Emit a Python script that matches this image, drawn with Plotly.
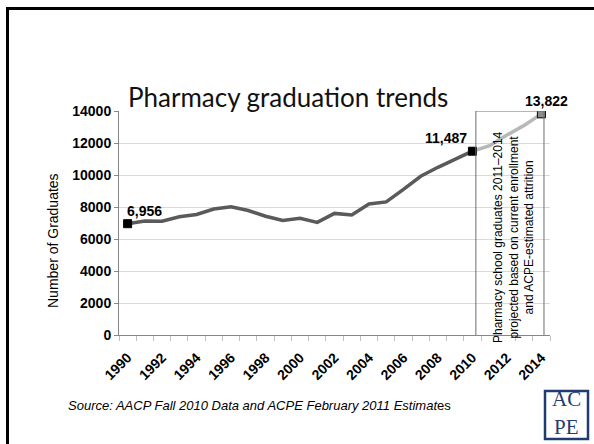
import plotly.graph_objects as go

# ---------------- data ----------------
years_actual = [1990, 1991, 1992, 1993, 1994, 1995, 1996, 1997, 1998, 1999, 2000,
                2001, 2002, 2003, 2004, 2005, 2006, 2007, 2008, 2009, 2010]
grads_actual = [6956, 7130, 7110, 7390, 7530, 7870, 8020, 7780, 7420, 7160, 7290,
                7040, 7600, 7500, 8190, 8320, 9100, 9920, 10480, 11000, 11487]
years_proj = [2010, 2011, 2012, 2013, 2014]
grads_proj = [11487, 11830, 12500, 13100, 13822]

label_years = [1990, 2010, 2014]
label_values = [6956, 11487, 13822]
label_texts = ["6,956", "11,487", "13,822"]

x_tick_vals = list(range(1990, 2015, 2))
y_tick_vals = list(range(0, 14001, 2000))

title_text = "Pharmacy graduation trends"
y_title = "Number of Graduates"
box_text = ("Pharmacy school graduates 2011\u20132014<br>"
            "projected based on current enrollment<br>"
            "and ACPE-estimated attrition")
source_text = "<i>Source: AACP Fall 2010 Data and ACPE February 2011 Estimat</i>es"
logo_top = "AC"
logo_bottom = "PE"

# ---------------- layout geometry (pixels) ----------------
W, H = 594, 444
L, R, T, B = 119, 44, 111, 109
PW, PH = W - L - R, H - T - B


def px(x):
    return (x - L) / PW


def py(y):
    return (H - B - y) / PH


fig = go.Figure()

fig.add_trace(go.Scatter(
    x=years_proj, y=grads_proj, mode="lines",
    line=dict(color="#b8b8b8", width=3.5), hoverinfo="skip", showlegend=False))
fig.add_trace(go.Scatter(
    x=years_actual, y=grads_actual, mode="lines",
    line=dict(color="#5a5a5a", width=3.5), showlegend=False))
fig.add_trace(go.Scatter(
    x=label_years, y=label_values, mode="markers",
    marker=dict(symbol="square", size=8,
                color=["#000000", "#000000", "#8c8c8c"],
                line=dict(color="#000000", width=1)),
    showlegend=False))

bold = dict(family="Liberation Sans, Arial", size=14, color="#000000")

fig.update_layout(
    width=W, height=H,
    margin=dict(l=L, r=R, t=T, b=B, pad=0),
    paper_bgcolor="#ffffff", plot_bgcolor="#ffffff",
    font=dict(family="Liberation Sans, Arial", color="#000000"),
    xaxis=dict(
        range=[1989.5, 2014.5], tickmode="array", tickvals=x_tick_vals,
        ticktext=[f"<b>{v}</b>" for v in x_tick_vals],
        tickangle=-45, tickfont=bold, ticks="", ticklabelstandoff=8,
        showgrid=False, zeroline=False, showline=True,
        linecolor="#868686", linewidth=1,
        minor=dict(tickmode="linear", tick0=1989.5, dtick=1, ticks="outside",
                   ticklen=5, tickcolor="#bfbfbf", showgrid=False),
    ),
    yaxis=dict(
        range=[0, 14000], tickmode="array", tickvals=y_tick_vals,
        ticktext=[f"<b>{v}</b>" for v in y_tick_vals],
        tickfont=bold, ticks="outside", ticklen=4, tickcolor="#868686",
        showgrid=True, gridcolor="#d9d9d9", gridwidth=1,
        zeroline=False, showline=True, linecolor="#868686", linewidth=1,
    ),
)

shapes = [
    # slide frame
    dict(type="rect", xref="paper", yref="paper",
         x0=px(7.5), x1=px(620), y0=py(8.5), y1=py(470),
         line=dict(color="#000000", width=3), layer="below"),
    # projection box
    dict(type="rect", xref="x", yref="y",
         x0=2010.2, x1=2014.15, y0=-720, y1=14000,
         line=dict(color="#6e6e6e", width=1), layer="above"),
    # logo frame
    dict(type="rect", xref="paper", yref="paper",
         x0=px(545), x1=px(588), y0=py(439), y1=py(391),
         line=dict(color="#1f3b70", width=2.5)),
]

annotations = [
    dict(text=title_text, xref="paper", yref="paper", x=px(288), y=py(97),
         showarrow=False, xanchor="center", yanchor="middle",
         font=dict(family="Lato", size=26, color="#111111")),
    dict(text=y_title, xref="paper", yref="paper", x=px(53), y=py(241),
         showarrow=False, textangle=-90, xanchor="center", yanchor="middle",
         font=dict(family="Liberation Sans, Arial", size=14, color="#000000")),
    dict(text=box_text, xref="paper", yref="paper", x=px(513), y=py(237),
         showarrow=False, textangle=-90, xanchor="center", yanchor="middle",
         align="center",
         font=dict(family="Liberation Sans, Arial", size=12, color="#000000")),
    dict(text=source_text, xref="paper", yref="paper", x=px(66), y=py(405),
         showarrow=False, xanchor="left", yanchor="middle",
         font=dict(family="Liberation Sans, Arial", size=13, color="#000000")),
    dict(text=logo_top, xref="paper", yref="paper", x=px(566.5), y=py(413),
         showarrow=False, xanchor="center", yanchor="bottom",
         font=dict(family="Liberation Serif, serif", size=21, color="#1f3b70")),
    dict(text=logo_bottom, xref="paper", yref="paper", x=px(566.5), y=py(413),
         showarrow=False, xanchor="center", yanchor="top",
         font=dict(family="Liberation Serif, serif", size=21, color="#1f3b70")),
]

offsets = [
    dict(xanchor="left", yanchor="bottom", xshift=-3, yshift=3),
    dict(xanchor="right", yanchor="bottom", xshift=-3, yshift=3),
    dict(xanchor="center", yanchor="bottom", xshift=5, yshift=3),
]
for xv, yv, t, o in zip(label_years, label_values, label_texts, offsets):
    annotations.append(dict(text=f"<b>{t}</b>", x=xv, y=yv, xref="x", yref="y",
                            showarrow=False, font=dict(family="Liberation Sans, Arial",
                                                       size=14, color="#000000"), **o))

fig.update_layout(shapes=shapes, annotations=annotations)

fig.write_html("out.html")
